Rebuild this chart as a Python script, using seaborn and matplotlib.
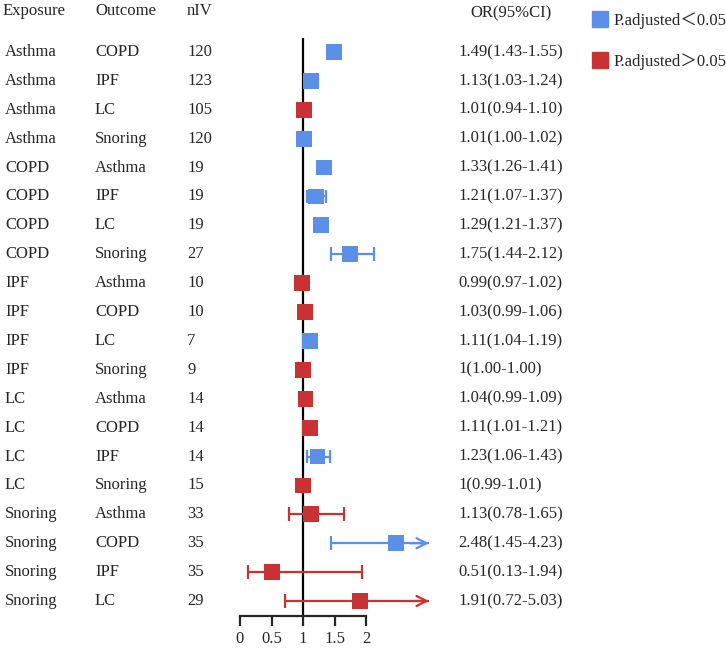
import matplotlib
matplotlib.use("Agg")
import matplotlib.pyplot as plt
import matplotlib.transforms as mtransforms
from matplotlib.lines import Line2D
import pandas as pd
import seaborn as sns

exposure = ['Asthma', 'Asthma', 'Asthma', 'Asthma', 'COPD', 'COPD', 'COPD', 'COPD',
            'IPF', 'IPF', 'IPF', 'IPF', 'LC', 'LC', 'LC', 'LC',
            'Snoring', 'Snoring', 'Snoring', 'Snoring']
outcome = ['COPD', 'IPF', 'LC', 'Snoring', 'Asthma', 'IPF', 'LC', 'Snoring',
           'Asthma', 'COPD', 'LC', 'Snoring', 'Asthma', 'COPD', 'IPF', 'Snoring',
           'Asthma', 'COPD', 'IPF', 'LC']
n_iv = [120, 123, 105, 120, 19, 19, 19, 27, 10, 10, 7, 9, 14, 14, 14, 15, 33, 35, 35, 29]
or_val = [1.49, 1.13, 1.01, 1.01, 1.33, 1.21, 1.29, 1.75, 0.99, 1.03, 1.11, 1.00,
          1.04, 1.11, 1.23, 1.00, 1.13, 2.48, 0.51, 1.91]
ci_lo = [1.43, 1.03, 0.94, 1.00, 1.26, 1.07, 1.21, 1.44, 0.97, 0.99, 1.04, 1.00,
         0.99, 1.01, 1.06, 0.99, 0.78, 1.45, 0.13, 0.72]
ci_hi = [1.55, 1.24, 1.10, 1.02, 1.41, 1.37, 1.37, 2.12, 1.02, 1.06, 1.19, 1.00,
         1.09, 1.21, 1.43, 1.01, 1.65, 4.23, 1.94, 5.03]
or_text = ['1.49(1.43-1.55)', '1.13(1.03-1.24)', '1.01(0.94-1.10)', '1.01(1.00-1.02)',
           '1.33(1.26-1.41)', '1.21(1.07-1.37)', '1.29(1.21-1.37)', '1.75(1.44-2.12)',
           '0.99(0.97-1.02)', '1.03(0.99-1.06)', '1.11(1.04-1.19)', '1(1.00-1.00)',
           '1.04(0.99-1.09)', '1.11(1.01-1.21)', '1.23(1.06-1.43)', '1(0.99-1.01)',
           '1.13(0.78-1.65)', '2.48(1.45-4.23)', '0.51(0.13-1.94)', '1.91(0.72-5.03)']
significant = [True, True, False, True, True, True, True, True, False, False,
               True, False, False, False, True, False, False, True, False, False]
x_ticks = [0, 0.5, 1, 1.5, 2]

BLUE = '#5B8FE8'
RED = '#C83232'
W, H = 726, 648
XMAX = 3.05
CLIP = 3.0

df = pd.DataFrame({'row': range(len(or_val)), 'OR': or_val, 'lo': ci_lo, 'hi': ci_hi,
                   'sig': ['P.adjusted＜0.05' if s else 'P.adjusted＞0.05' for s in significant]})

sns.set_style("white")
plt.rcParams['font.family'] = ['Liberation Serif', 'Noto Sans CJK SC', 'DejaVu Sans']

fig = plt.figure(figsize=(W / 100, H / 100), dpi=100)
ax = fig.add_axes([240 / W, 1 - 616 / H, 63 * XMAX / W, 578 / H])

ax.axvline(1, color='black', lw=1.6, zorder=1)

# confidence intervals, arrows where the upper limit runs past the axis
cap = 0.24
for _, r in df.iterrows():
    c = BLUE if r['sig'].endswith('＜0.05') else RED
    hi = min(r['hi'], CLIP)
    ax.hlines(r['row'], r['lo'], hi, color=c, lw=1.6, zorder=2)
    ax.vlines(r['lo'], r['row'] - cap, r['row'] + cap, color=c, lw=1.6, zorder=2)
    if r['hi'] <= CLIP:
        ax.vlines(r['hi'], r['row'] - cap, r['row'] + cap, color=c, lw=1.6, zorder=2)
    else:
        ax.annotate('', xy=(CLIP, r['row']), xytext=(CLIP - 0.3, r['row']),
                    arrowprops=dict(arrowstyle='->', color=c, lw=1.6, mutation_scale=18,
                                    shrinkA=0, shrinkB=0), zorder=2)

sns.scatterplot(data=df, x='OR', y='row', hue='sig', palette=[BLUE, RED],
                hue_order=['P.adjusted＜0.05', 'P.adjusted＞0.05'],
                marker='s', s=130, linewidth=0, legend=False, zorder=3, ax=ax)

ax.set_xlim(0, XMAX)
ax.set_ylim(19 + 15 / 28.9, -14 / 28.9)
ax.set_xlabel('')
ax.set_ylabel('')
ax.set_yticks([])
ax.set_xticks(x_ticks)
ax.set_xticklabels([f'{t:g}' for t in x_ticks], fontsize=12)
ax.tick_params(axis='x', direction='out', length=7, width=1.6, pad=4, bottom=True)
for s in ['top', 'right', 'left']:
    ax.spines[s].set_visible(False)
ax.spines['bottom'].set_linewidth(1.6)
ax.spines['bottom'].set_bounds(0, 2)

# table columns
tr = mtransforms.blended_transform_factory(fig.transFigure, ax.transData)
head_y = (11 - 52) / 28.9
fs = 12
ax.text(3 / W, head_y, 'Exposure', transform=tr, fontsize=fs, va='center')
ax.text(95 / W, head_y, 'Outcome', transform=tr, fontsize=fs, va='center')
ax.text(187 / W, head_y, 'nIV', transform=tr, fontsize=fs, va='center')
ax.text(511 / W, (13 - 52) / 28.9, 'OR(95%CI)', transform=tr, fontsize=fs,
        va='center', ha='center')
for i in range(len(or_val)):
    ax.text(5 / W, i, exposure[i], transform=tr, fontsize=fs, va='center')
    ax.text(95 / W, i, outcome[i], transform=tr, fontsize=fs, va='center')
    ax.text(187 / W, i, str(n_iv[i]), transform=tr, fontsize=fs, va='center')
    ax.text(458 / W, i, or_text[i], transform=tr, fontsize=fs, va='center')

handles = [Line2D([], [], marker='s', ls='', color=BLUE, markersize=11, label='P.adjusted＜0.05'),
           Line2D([], [], marker='s', ls='', color=RED, markersize=11, label='P.adjusted＞0.05')]
fig.legend(handles=handles, loc='upper left', bbox_to_anchor=(590 / W, 1 - 12 / H),
           frameon=False, fontsize=fs, handletextpad=0.2, labelspacing=1.45,
           borderpad=0, borderaxespad=0, handlelength=1.2)

fig.savefig('out.png', dpi=100)
